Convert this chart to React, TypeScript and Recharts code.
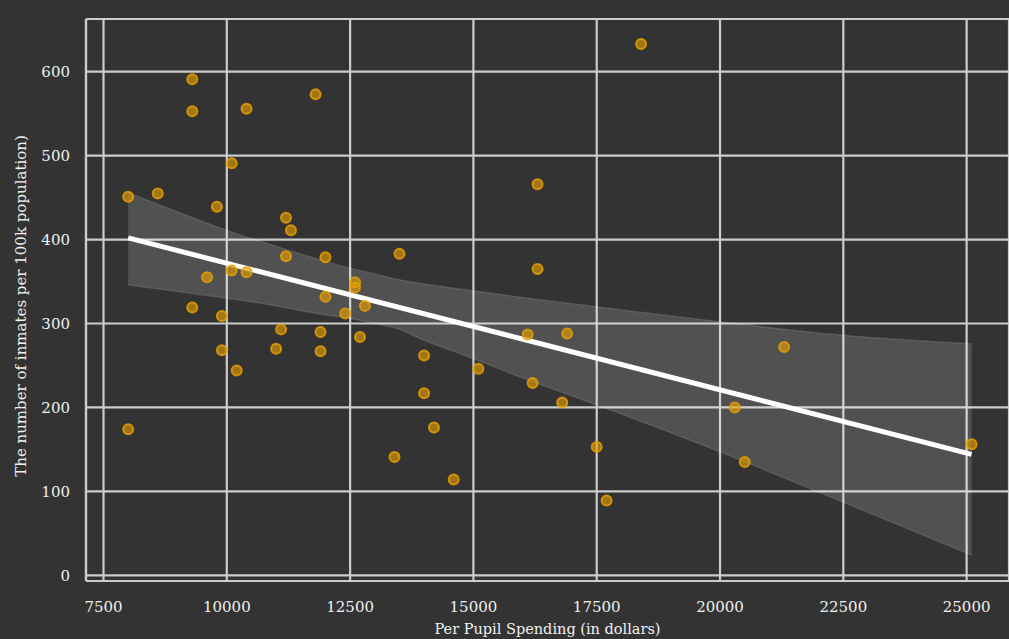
import {
  ComposedChart,
  Scatter,
  Area,
  Line,
  XAxis,
  YAxis,
  CartesianGrid,
  ReferenceLine,
} from "recharts";

// per pupil spending (dollars) and inmates per 100k, one entry per state
const SPENDING = [
  9300, 9300, 10400, 11800, 10100, 8000, 8600, 9800, 11200, 11300,
  11200, 12000, 9600, 10100, 10400, 12000, 9300, 9900, 9900, 10200,
  11000, 11100, 11900, 11900, 8000, 18400, 16300, 16300, 13500, 12600,
  12600, 12800, 12400, 12700, 14000, 15100, 16100, 16900, 16200, 16800,
  14000, 14200, 13400, 14600, 17500, 17700, 21300, 20300, 20500, 25100,
];
const INMATES = [
  591, 553, 556, 573, 491, 451, 455, 439, 426, 411,
  380, 379, 355, 363, 361, 332, 319, 309, 268, 244,
  270, 293, 290, 267, 174, 633, 466, 365, 383, 349,
  343, 321, 312, 284, 262, 246, 287, 288, 229, 206,
  217, 176, 141, 114, 153, 89, 272, 200, 135, 156,
];

// fitted line end points
const FIT_X = [8000, 25100];
const FIT_Y = [402, 144];

// confidence band
const BAND_X = [8000, 9000, 10000, 11000, 12000, 12500, 13000, 13500, 14000, 14500, 15000, 16000, 17500, 20000, 22500, 25100];
const BAND_LOW = [346, 338, 330, 321, 310, 306, 300, 293, 280, 269, 258, 235, 203, 147, 87, 24];
const BAND_HIGH = [456, 433, 411, 392, 374, 366, 359, 352, 347, 343, 339, 331, 320, 302, 286, 276];

const X_TICKS = [7500, 10000, 12500, 15000, 17500, 20000, 22500, 25000];
const Y_TICKS = [0, 100, 200, 300, 400, 500, 600];

const BG = "#333333";
const GRID = "#cccccc";
const ORANGE = "#E69F00";
const FONT = "'DejaVu Serif', serif";

const points = SPENDING.map((x, i) => ({ x, y: INMATES[i] }));
const fit = FIT_X.map((x, i) => ({ x, y: FIT_Y[i] }));
const band = BAND_X.map((x, i) => ({ x, band: [BAND_LOW[i], BAND_HIGH[i]] }));

const Dot = (props: any) => (
  <circle
    cx={props.cx}
    cy={props.cy}
    r={5}
    fill={ORANGE}
    fillOpacity={0.62}
    stroke={ORANGE}
    strokeOpacity={0.85}
    strokeWidth={2}
  />
);

const YTitle = (props: any) => {
  const { viewBox } = props;
  const cx = viewBox.x + 21;
  const cy = viewBox.y + viewBox.height / 2 + 6;
  return (
    <text
      x={cx}
      y={cy}
      transform={`rotate(-90 ${cx} ${cy})`}
      textAnchor="middle"
      dominantBaseline="central"
      fill="#f0f0f0"
      fontFamily={FONT}
      fontSize={15}
    >
      The number of inmates per 100k population)
    </text>
  );
};

export default function App() {
  return (
    <div style={{ width: 1009, height: 639, background: BG, overflow: "hidden" }}>
      <style>{`body{margin:0;background:${BG};}`}</style>
      <ComposedChart
        width={1009}
        height={639}
        margin={{ top: 19, right: 0, bottom: 0, left: 0 }}
        style={{ background: BG }}
      >
        <CartesianGrid stroke={GRID} strokeWidth={2.2} />
        <XAxis
          type="number"
          dataKey="x"
          domain={[7145, 25859]}
          allowDataOverflow
          ticks={X_TICKS}
          height={58}
          tickSize={0}
          tickMargin={20}
          axisLine={{ stroke: GRID, strokeWidth: 2.2 }}
          tickLine={false}
          tick={{ fill: "#f0f0f0", fontSize: 15, fontFamily: FONT }}
          label={{
            value: "Per Pupil Spending (in dollars)",
            position: "insideBottom",
            offset: 5,
            fill: "#f0f0f0",
            fontSize: 14.5,
            fontFamily: FONT,
          }}
        />
        <YAxis
          type="number"
          domain={[-6.8, 662.8]}
          allowDataOverflow
          ticks={Y_TICKS}
          width={86}
          tickSize={0}
          tickMargin={16}
          axisLine={{ stroke: GRID, strokeWidth: 2.2 }}
          tickLine={false}
          tick={{ fill: "#f0f0f0", fontSize: 15, fontFamily: FONT }}
          label={<YTitle />}
        />
        <ReferenceLine y={662.8} stroke={GRID} strokeWidth={2.2} />
        <Scatter data={points} dataKey="y" shape={<Dot />} isAnimationActive={false} />
        <Area
          data={band}
          dataKey="band"
          type="monotone"
          fill="#ffffff"
          fillOpacity={0.15}
          stroke="#ffffff"
          strokeOpacity={0.12}
          strokeWidth={1.5}
          isAnimationActive={false}
        />
        <Line
          data={fit}
          dataKey="y"
          stroke="#ffffff"
          strokeWidth={5}
          dot={false}
          isAnimationActive={false}
        />
      </ComposedChart>
    </div>
  );
}
